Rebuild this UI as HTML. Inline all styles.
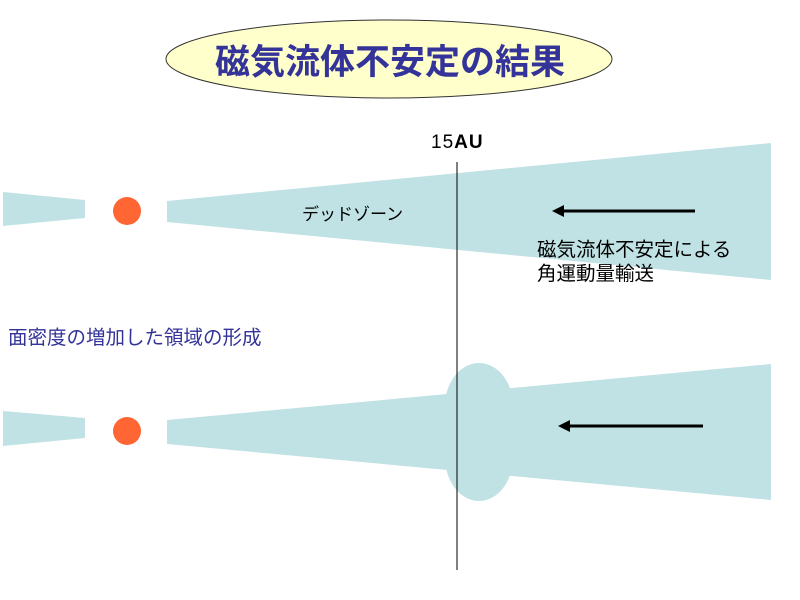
<!DOCTYPE html>
<html><head><meta charset="utf-8"><style>
html,body{margin:0;padding:0;background:#fff;}
svg{display:block;}
text{font-family:"Liberation Sans","Noto Sans CJK JP",sans-serif;}
</style></head><body>
<svg width="800" height="600" viewBox="0 0 800 600">
<ellipse cx="389" cy="59" rx="223" ry="39" fill="#ffffcc" stroke="#333" stroke-width="1"/>
<text x="390" y="74" font-size="35" font-weight="bold" fill="#333399" text-anchor="middle">磁気流体不安定の結果</text>
<text x="431" y="148" font-size="19" fill="#000" letter-spacing="1">15<tspan font-weight="bold">AU</tspan></text>
<g fill="#c0e2e4">
<polygon points="3,192 85,200 85,218 3,226"/>
<polygon points="167,201 771,143 771,280 167,222"/>
<polygon points="3,411 85,418 85,438 3,446"/>
<polygon points="167,420 771,364 771,500 167,444"/>
<ellipse cx="479" cy="406" rx="34" ry="43"/>
<ellipse cx="479" cy="457" rx="34" ry="44"/>
</g>
<circle cx="127" cy="211" r="14" fill="#ff6633"/>
<circle cx="127" cy="431" r="14" fill="#ff6633"/>
<line x1="457" y1="162" x2="457" y2="570" stroke="#000" stroke-width="1"/>
<line x1="695" y1="211" x2="562" y2="211" stroke="#000" stroke-width="3"/>
<polygon points="552,211 564,205 564,217" fill="#000"/>
<line x1="703" y1="426" x2="568" y2="426" stroke="#000" stroke-width="3"/>
<polygon points="558,426 570,420 570,432" fill="#000"/>
<text x="302" y="220" font-size="17" fill="#000">デッドゾーン</text>
<text x="537" y="256" font-size="19.5" fill="#000">磁気流体不安定による</text>
<text x="537" y="280" font-size="19.5" fill="#000">角運動量輸送</text>
<text x="8" y="344" font-size="19.5" fill="#333399">面密度の増加した領域の形成</text>
</svg>
</body></html>
